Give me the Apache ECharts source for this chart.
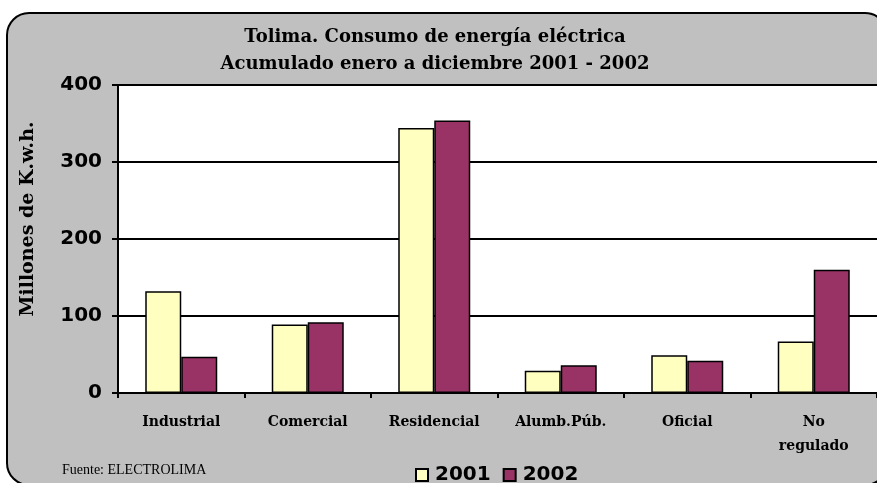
<!DOCTYPE html>
<html><head><meta charset="utf-8">
<script src="https://cdn.jsdelivr.net/npm/echarts@6/dist/echarts.min.js"></script>
<style>html,body{margin:0;padding:0;background:#fff}#c{width:877px;height:483px}</style>
</head><body><div id="c"></div>
<script>
var categories = ['Industrial', 'Comercial', 'Residencial', 'Alumb.Púb.', 'Oficial', 'No\nregulado'];
var values2001 = [132, 89, 344, 29, 49, 67];
var values2002 = [47, 92, 354, 36, 42, 160];
var seriesNames = ['2001', '2002'];
var yTicks = [0, 100, 200, 300, 400];

var chart = echarts.init(document.getElementById('c'));
chart.setOption({
  animation: false,
  backgroundColor: '#ffffff',
  graphic: [
    { type: 'rect', z: -10, shape: { x: 7, y: 13, width: 880, height: 472, r: 22 },
      style: { fill: '#C0C0C0', stroke: '#000', lineWidth: 2 } },
    { type: 'text', z: 10, x: 28, y: 219, rotation: Math.PI / 2,
      style: { text: 'Millones de K.w.h.', font: 'bold 19px "DejaVu Serif"', fill: '#000',
        textAlign: 'center', textVerticalAlign: 'middle' } }
  ],
  title: [
    { text: 'Tolima. Consumo de energía eléctrica\nAcumulado enero a diciembre 2001 - 2002',
      left: 430, top: 19, textAlign: 'center',
      textStyle: { fontFamily: 'DejaVu Serif', fontWeight: 'bold', fontSize: 18, lineHeight: 27, color: '#000' } },
    { text: 'Fuente: ELECTROLIMA', left: 57, top: 458,
      textStyle: { fontFamily: 'Liberation Serif', fontWeight: 'normal', fontSize: 14, color: '#000' } }
  ],
  legend: {
    data: seriesNames, left: 410, top: 460, itemWidth: 12, itemHeight: 12, itemGap: 12,
    icon: 'rect',
    textStyle: { fontFamily: 'DejaVu Sans', fontWeight: 'bold', fontSize: 20, color: '#000', padding: [0, 0, 0, 2] }
  },
  grid: { left: 118, top: 85, width: 762, height: 308, show: true, backgroundColor: '#fff', borderWidth: 0 },
  xAxis: {
    type: 'category', data: categories,
    axisLine: { lineStyle: { color: '#000', width: 2 } },
    axisTick: { show: true, length: 5, lineStyle: { color: '#000', width: 2 } },
    axisLabel: { margin: 17, interval: 0, color: '#000', fontFamily: 'DejaVu Serif', fontWeight: 'bold', fontSize: 14, lineHeight: 24 }
  },
  yAxis: {
    type: 'value', min: 0, max: 400, interval: 100,
    axisLine: { show: true, lineStyle: { color: '#000', width: 2 } },
    axisTick: { show: true, length: 6, lineStyle: { color: '#000', width: 2 } },
    axisLabel: { margin: 16, color: '#000', fontFamily: 'DejaVu Sans', fontWeight: 'bold', fontSize: 20 },
    splitLine: { show: true, lineStyle: { color: '#000', width: 2 } }
  },
  series: [
    { name: seriesNames[0], type: 'bar', data: values2001, barWidth: 36, barGap: '0%',
      itemStyle: { color: '#FFFFC0', borderColor: '#000', borderWidth: 1.5 } },
    { name: seriesNames[1], type: 'bar', data: values2002, barWidth: 36, barGap: '0%',
      itemStyle: { color: '#993366', borderColor: '#000', borderWidth: 1.5 } }
  ]
});
</script></body></html>
